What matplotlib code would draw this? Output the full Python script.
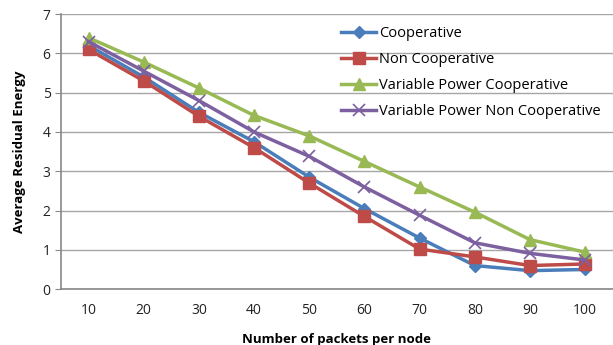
import numpy as np
import matplotlib.pyplot as plt

packets = [10, 20, 30, 40, 50, 60, 70, 80, 90, 100]
coop = [6.2, 5.4, 4.5, 3.75, 2.85, 2.05, 1.3, 0.6, 0.47, 0.5]
non_coop = [6.1, 5.3, 4.4, 3.6, 2.7, 1.85, 1.02, 0.82, 0.6, 0.64]
vp_coop = [6.4, 5.78, 5.12, 4.42, 3.9, 3.25, 2.6, 1.96, 1.26, 0.94]
vp_non_coop = [6.3, 5.55, 4.8, 4.0, 3.38, 2.6, 1.88, 1.18, 0.91, 0.74]

plt.rcParams['font.family'] = ['Open Sans', 'DejaVu Sans']

fig = plt.figure(figsize=(6.13, 3.45), dpi=100)
ax = fig.add_axes([0.0995, 0.162, 0.9, 0.797])

x = np.arange(len(packets))
ax.plot(x, coop, color='#4a7ebb', lw=2.5, marker='D', ms=6, label='Cooperative')
ax.plot(x, non_coop, color='#be4b48', lw=2.5, marker='s', ms=8, label='Non Cooperative')
ax.plot(x, vp_coop, color='#98b954', lw=2.5, marker='^', ms=8, label='Variable Power Cooperative')
ax.plot(x, vp_non_coop, color='#7d60a0', lw=2.5, marker='x', ms=8, mew=1.2,
        label='Variable Power Non Cooperative')

ax.set_xlim(-0.5, len(packets) - 0.5)
ax.set_ylim(0, 7)
ax.set_xticks(x)
ax.set_xticklabels([str(p) for p in packets])
ax.set_yticks(range(8))
ax.yaxis.grid(True, color='#a6a6a6', lw=1)
ax.set_axisbelow(True)
for s in ['top', 'right']:
    ax.spines[s].set_visible(False)
for s in ['left', 'bottom']:
    ax.spines[s].set_color('#888888')
    ax.spines[s].set_linewidth(1.2)
ax.tick_params(axis='x', length=0, pad=10, labelsize=10, colors='#222222')
ax.tick_params(axis='y', length=4, color='#888888', labelsize=10, colors='#222222')

ax.set_xlabel('Number of packets per node', fontsize=9.5, fontweight='bold', labelpad=11)
ax.set_ylabel('Average Residual Energy', fontsize=9.5, fontweight='bold', labelpad=12)

ax.legend(loc='upper right', bbox_to_anchor=(1.0, 1.0), frameon=False, fontsize=10.5,
          handlelength=2.4, handletextpad=0.2, labelspacing=0.75, borderaxespad=0.4)

fig.savefig('out.png', dpi=100)
